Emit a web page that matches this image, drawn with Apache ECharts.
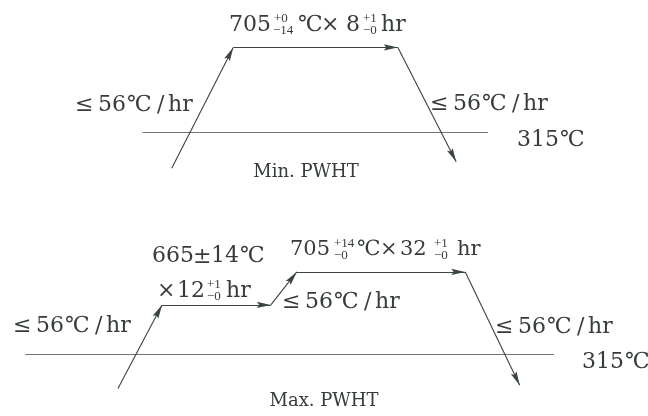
<!DOCTYPE html>
<html>
<head>
<meta charset="utf-8">
<script src="https://cdn.jsdelivr.net/npm/echarts@6/dist/echarts.min.js"></script>
<style>
  html, body { margin: 0; padding: 0; background: #ffffff; }
  #chart { width: 648px; height: 416px; }
</style>
</head>
<body>
<div id="chart"></div>
<script>
// ---- Data (schematic PWHT cycles: time in schematic units, temperature level in °C-like units) ----
const minTime = [26.5, 36.0, 61.4, 70.4];
const minTemp = [150, 705, 705, 180];
const maxTime = [18.2, 25.0, 41.8, 45.8, 71.8, 80.2];
const maxTemp = [150, 548, 548, 705, 705, 165];
const refTemp = 315;
const minRefSpan = [22.0, 75.3];
const maxRefSpan = [3.9, 85.5];

// ---- Texts ----
const rateText = ['≤', '56', '℃', '/', 'hr'];
const refLabel = ['315', '℃'];
const minTitle = 'Min. PWHT';
const maxTitle = 'Max. PWHT';
const minHold = { temp: '705', tolUp: '+0', tolDn: '−14', unit: '℃', times: '×', hours: '8', hUp: '+1', hDn: '−0', hUnit: 'hr' };
const maxHold1a = ['665', '±', '14', '℃'];
const maxHold1b = { times: '×', hours: '12', hUp: '+1', hDn: '−0', hUnit: 'hr' };
const maxHold2 = { temp: '705', tolUp: '+14', tolDn: '−0', unit: '℃', times: '×', hours: '32', hUp: '+1', hDn: '−0', hUnit: 'hr' };

// ---- Build segments ----
function segments(xs, ys) {
  const out = [];
  for (let i = 0; i < xs.length - 1; i++) {
    out.push({ coords: [[xs[i], ys[i]], [xs[i + 1], ys[i + 1]]] });
  }
  return out;
}

const LINE = '#3a4345';
const TXT = '#363b3b';
const SERIF = '"DejaVu Serif","DejaVu Sans","Noto Sans CJK SC",serif';
const TOLF = '"Liberation Serif","DejaVu Serif",serif';
const FS = 22;

function t(x, y, s, size, fam, align) {
  return {
    type: 'text', x: x, y: y, silent: true,
    style: {
      text: s, fill: TXT,
      font: size + 'px ' + (fam || SERIF),
      textAlign: align || 'left', textVerticalAlign: 'middle'
    }
  };
}
const rateOffsets = [0, 23, 52, 82, 93];
function rate(x, y) {
  return rateText.map((s, i) => t(x + rateOffsets[i], y, s, FS));
}
function ref(x, y, off) {
  return [t(x, y, refLabel[0], FS), t(x + off, y, refLabel[1], FS)];
}

const graphics = [].concat(
  // top hold label
  [
    t(229, 25, minHold.temp, FS),
    t(274, 19, minHold.tolUp, 13, TOLF), t(273, 31, minHold.tolDn, 13, TOLF),
    t(298, 25, minHold.unit, FS),
    t(321, 25, minHold.times, FS),
    t(346, 25, minHold.hours, FS),
    t(363, 19, minHold.hUp, 13, TOLF), t(363, 31, minHold.hDn, 13, TOLF),
    t(381, 25, minHold.hUnit, FS)
  ],
  rate(75, 105),
  rate(430, 104),
  ref(517, 140, 43),
  [t(306, 172, minTitle, 18, SERIF, 'center')],
  // bottom labels
  [
    t(152, 256, maxHold1a[0], FS), t(193, 257, maxHold1a[1], FS),
    t(211, 256, maxHold1a[2], FS), t(240, 256, maxHold1a[3], FS),
    t(157, 291, maxHold1b.times, FS), t(177, 291, maxHold1b.hours, FS),
    t(207, 285, maxHold1b.hUp, 13, TOLF), t(207, 297, maxHold1b.hDn, 13, TOLF),
    t(226, 291, maxHold1b.hUnit, FS)
  ],
  [
    t(290, 250, maxHold2.temp, 21),
    t(334, 244, maxHold2.tolUp, 13, TOLF), t(334, 256, maxHold2.tolDn, 13, TOLF),
    t(357, 250, maxHold2.unit, 21),
    t(380, 250, maxHold2.times, 21),
    t(400, 250, maxHold2.hours, 21),
    t(434, 244, maxHold2.hUp, 13, TOLF), t(434, 256, maxHold2.hDn, 13, TOLF),
    t(457, 250, maxHold2.hUnit, 21)
  ],
  rate(13, 326),
  rate(282, 302),
  rate(495, 327),
  ref(582, 362, 43),
  [t(324, 401, maxTitle, 18, SERIF, 'center')]
);

// slim filled dart arrowhead, tip at the centre of a square box, body trailing backwards
const DART = 'path://M0,0M40,40M20,20L24.5,40L20,36.5L15.5,40Z';

const chart = echarts.init(document.getElementById('chart'), null, { renderer: 'canvas' });
const pathStyle = {
  type: 'lines', coordinateSystem: 'cartesian2d', polyline: false,
  symbol: ['none', DART], symbolSize: 28,
  lineStyle: { color: LINE, width: 1.1, opacity: 1, curveness: 0 },
  silent: true, animation: false, z: 3
};
const refStyle = {
  type: 'lines', coordinateSystem: 'cartesian2d', polyline: false,
  symbol: ['none', 'none'],
  lineStyle: { color: '#6f7475', width: 1, opacity: 1, curveness: 0 },
  silent: true, animation: false, z: 2
};

chart.setOption({
  backgroundColor: '#ffffff',
  animation: false,
  grid: [
    { left: 0, right: 0, top: 5, height: 196 },
    { left: 0, right: 0, top: 231, height: 168 }
  ],
  xAxis: [
    { type: 'value', gridIndex: 0, min: 0, max: 100, show: false },
    { type: 'value', gridIndex: 1, min: 0, max: 100, show: false }
  ],
  yAxis: [
    { type: 'value', gridIndex: 0, min: 0, max: 900, show: false },
    { type: 'value', gridIndex: 1, min: 100, max: 900, show: false }
  ],
  series: [
    Object.assign({}, refStyle, { name: 'min-ref', xAxisIndex: 0, yAxisIndex: 0,
      data: [{ coords: [[minRefSpan[0], refTemp], [minRefSpan[1], refTemp]] }] }),
    Object.assign({}, refStyle, { name: 'max-ref', xAxisIndex: 1, yAxisIndex: 1,
      data: [{ coords: [[maxRefSpan[0], refTemp], [maxRefSpan[1], refTemp]] }] }),
    Object.assign({}, pathStyle, { name: 'Min. PWHT', xAxisIndex: 0, yAxisIndex: 0,
      data: segments(minTime, minTemp) }),
    Object.assign({}, pathStyle, { name: 'Max. PWHT', xAxisIndex: 1, yAxisIndex: 1,
      data: segments(maxTime, maxTemp) })
  ],
  graphic: graphics
});
</script>
</body>
</html>
